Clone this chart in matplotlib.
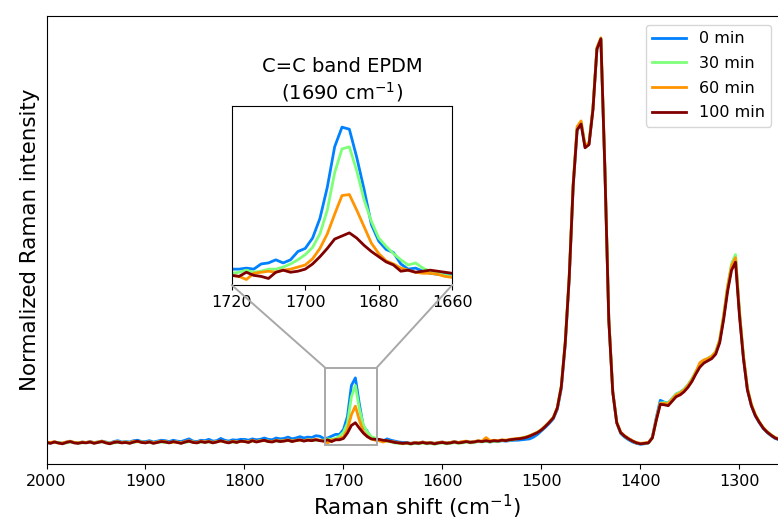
import numpy as np
import matplotlib
matplotlib.use("Agg")
import matplotlib.pyplot as plt
from matplotlib.patches import Rectangle, ConnectionPatch

# --- data (intensities in thousandths of the normalised scale) ---
labels = ["0 min", "30 min", "60 min", "100 min"]
colors = plt.cm.jet([0.25, 0.5, 0.75, 1.0])

shift = np.arange(2000, 1251, -4)        # 2000 ... 1252 cm-1
shift_band = np.arange(1720, 1659, -2)   # C=C band window for the inset

i_0min = [
    48, 47, 49, 48, 46, 49, 50, 48, 47, 49,
    48, 50, 48, 49, 51, 49, 47, 50, 52, 49,
    50, 49, 52, 53, 50, 50, 52, 49, 51, 53,
    52, 50, 53, 51, 50, 53, 56, 51, 50, 53,
    52, 55, 51, 52, 57, 53, 51, 54, 53, 55,
    55, 53, 56, 54, 55, 58, 55, 54, 58, 56,
    57, 60, 56, 58, 61, 58, 60, 59, 63, 62,
    57, 58, 62, 66, 66, 77, 106, 175, 192, 134, 84, 73, 57, 55, 52, 51,
    56, 53, 51, 49, 48, 48, 46, 48, 47, 49,
    47, 48, 46, 48, 49, 47, 48, 50, 48, 49,
    50, 49, 50, 51, 50, 51, 49, 51, 50, 52,
    51, 52, 53, 53, 54, 55, 56, 60, 66, 74,
    82, 91, 101, 122, 168, 266, 412, 618, 744, 760,
    708, 714, 792, 926, 946, 662, 324, 162, 92, 68,
    60, 54, 49, 46, 44, 45, 47, 60, 104, 142,
    138, 136, 146, 156, 160, 166, 176, 189, 205, 220,
    228, 233, 238, 248, 274, 327, 391, 440, 460, 336,
    238, 166, 130, 107, 92, 79, 70, 63, 57, 54,
    52, 51,
]
i_30min = [
    49, 47, 48, 48, 46, 47, 49, 48, 47, 47,
    48, 48, 47, 49, 49, 48, 46, 47, 48, 48,
    49, 47, 48, 50, 49, 48, 48, 47, 49, 49,
    48, 48, 49, 49, 47, 48, 50, 49, 48, 49,
    49, 49, 48, 50, 51, 50, 48, 49, 49, 50,
    51, 49, 51, 50, 52, 52, 51, 50, 51, 51,
    52, 52, 51, 53, 53, 52, 54, 53, 53, 53,
    53, 56, 55, 57, 62, 71, 91, 150, 175, 124, 87, 72, 61, 58, 53, 50,
    51, 49, 47, 46, 45, 46, 44, 46, 45, 47,
    45, 46, 44, 46, 47, 45, 46, 48, 46, 47,
    49, 47, 48, 50, 49, 51, 49, 51, 50, 52,
    52, 53, 55, 56, 58, 60, 63, 67, 71, 77,
    85, 94, 104, 126, 174, 272, 418, 624, 750, 764,
    710, 716, 794, 928, 950, 664, 324, 162, 93, 70,
    62, 56, 51, 47, 45, 46, 47, 58, 99, 136,
    137, 136, 146, 156, 160, 167, 177, 190, 207, 222,
    231, 236, 241, 251, 278, 333, 398, 447, 467, 342,
    242, 170, 133, 110, 94, 81, 72, 65, 59, 56,
    54, 53,
]
i_60min = [
    49, 48, 50, 46, 47, 49, 51, 48, 47, 49,
    48, 50, 47, 49, 51, 48, 46, 49, 50, 48,
    49, 47, 51, 50, 49, 48, 50, 47, 49, 51,
    50, 48, 49, 49, 47, 50, 52, 49, 48, 51,
    49, 51, 48, 50, 51, 50, 48, 51, 49, 50,
    51, 49, 53, 50, 52, 52, 51, 50, 53, 51,
    52, 54, 51, 53, 53, 52, 54, 53, 55, 53,
    51, 47, 54, 54, 57, 61, 77, 110, 129, 98, 72, 62, 56, 53, 52, 49,
    52, 50, 49, 47, 46, 47, 46, 48, 47, 49,
    47, 48, 46, 48, 49, 47, 48, 50, 48, 50,
    51, 49, 50, 52, 51, 59, 52, 53, 52, 54,
    53, 55, 56, 57, 58, 60, 63, 67, 71, 77,
    85, 94, 104, 126, 173, 272, 418, 624, 752, 765,
    710, 716, 793, 928, 950, 664, 323, 162, 93, 71,
    63, 57, 52, 48, 46, 47, 48, 59, 99, 135,
    135, 134, 144, 154, 158, 165, 175, 188, 205, 226,
    232, 235, 240, 250, 276, 330, 395, 442, 460, 338,
    240, 169, 133, 110, 94, 81, 72, 65, 59, 56,
    54, 53,
]
i_100min = [
    48, 46, 49, 47, 45, 48, 50, 47, 46, 48,
    47, 49, 46, 48, 50, 47, 45, 48, 49, 47,
    48, 46, 49, 51, 48, 47, 49, 46, 48, 50,
    49, 47, 50, 48, 46, 49, 51, 48, 47, 50,
    48, 50, 47, 49, 52, 49, 47, 50, 48, 51,
    50, 48, 52, 49, 51, 53, 50, 49, 52, 50,
    51, 53, 50, 52, 54, 51, 53, 52, 54, 52,
    51, 54, 50, 54, 54, 57, 69, 86, 92, 80, 69, 61, 56, 55, 55, 53,
    52, 50, 48, 47, 46, 47, 45, 47, 46, 48,
    46, 47, 45, 47, 48, 46, 47, 49, 47, 48,
    50, 48, 49, 51, 50, 52, 50, 52, 51, 53,
    52, 54, 55, 56, 57, 59, 62, 66, 70, 76,
    84, 93, 103, 125, 172, 270, 415, 620, 745, 758,
    705, 712, 790, 925, 948, 660, 320, 160, 92, 70,
    62, 56, 51, 47, 45, 46, 47, 58, 98, 133,
    132, 130, 140, 150, 154, 161, 171, 184, 201, 216,
    225, 230, 235, 245, 270, 322, 385, 432, 450, 330,
    235, 165, 130, 108, 93, 80, 71, 64, 58, 55,
    53, 52,
]

band_0min = [57, 57, 58, 57, 62, 63, 66, 63, 66, 74, 77, 87, 106, 136, 175, 194,
             192, 165, 134, 100, 84, 76, 73, 62, 57, 58, 55, 53, 52, 52, 51]
band_30min = [53, 54, 56, 54, 55, 57, 57, 59, 62, 66, 71, 78, 91, 114, 150, 173,
              175, 152, 124, 103, 87, 79, 72, 66, 61, 63, 58, 55, 53, 51, 50]
band_60min = [51, 50, 47, 53, 54, 55, 54, 56, 57, 59, 61, 67, 77, 91, 110, 128,
              129, 114, 98, 82, 72, 65, 62, 58, 56, 54, 53, 53, 52, 50, 49]
band_100min = [51, 50, 54, 51, 50, 48, 54, 56, 54, 55, 57, 62, 69, 77, 86, 89,
               92, 87, 80, 74, 69, 64, 61, 55, 56, 54, 55, 56, 55, 54, 53]

spectra = [i_0min, i_30min, i_60min, i_100min]
bands = [band_0min, band_30min, band_60min, band_100min]

band_ylim = (0.0417, 0.2147)

# --- figure ---
fig = plt.figure(figsize=(7.78, 5.2), dpi=100)
ax = fig.add_axes([46.5 / 778, 1 - 464 / 520, 740 / 778, 448.5 / 520])

for y, c, lab in zip(spectra, colors, labels):
    ax.plot(shift, np.array(y) / 1000, color=c, lw=2, label=lab)

ax.set_xlim(2000, 1252.5)
ax.set_ylim(0, 1)
ax.set_yticks([])
ax.set_xticks([2000, 1900, 1800, 1700, 1600, 1500, 1400, 1300])
ax.tick_params(axis="x", labelsize=11.5)
ax.set_xlabel("Raman shift (cm$^{-1}$)", fontsize=15.4, labelpad=3)
ax.set_ylabel("Normalized Raman intensity", fontsize=15.4, labelpad=5)

ax.legend(loc="upper right", bbox_to_anchor=(771 / 778, 1 - 25 / 520),
          bbox_transform=fig.transFigure, borderaxespad=0, fontsize=11.5,
          handlelength=2.1, labelspacing=0.6)

# inset with the C=C band
axin = fig.add_axes([231.7 / 778, 1 - 285 / 520, 220.6 / 778, 179.3 / 520])
for y, c in zip(bands, colors):
    axin.plot(shift_band, np.array(y) / 1000, color=c, lw=2)
axin.set_xlim(1720, 1660)
axin.set_ylim(*band_ylim)
axin.set_yticks([])
axin.set_xticks([1720, 1700, 1680, 1660])
axin.tick_params(axis="x", labelsize=11.5)
axin.set_title("C=C band EPDM\n(1690 cm$^{-1}$)", fontsize=14, pad=4.5)

# zoom box + connectors
box_x = (1718.5, 1666.5)
ax.add_patch(Rectangle((box_x[1], band_ylim[0]), box_x[0] - box_x[1],
                       band_ylim[1] - band_ylim[0], fill=False,
                       edgecolor="#a8a8a8", lw=1.4, zorder=5))
for xa, xb in [(0, box_x[0]), (1, box_x[1])]:
    con = ConnectionPatch(xyA=(xa, 0), coordsA=axin.transAxes,
                          xyB=(xb, band_ylim[1]), coordsB=ax.transData,
                          color="#a8a8a8", lw=1.4)
    fig.add_artist(con)

fig.savefig("out.png", dpi=100)
